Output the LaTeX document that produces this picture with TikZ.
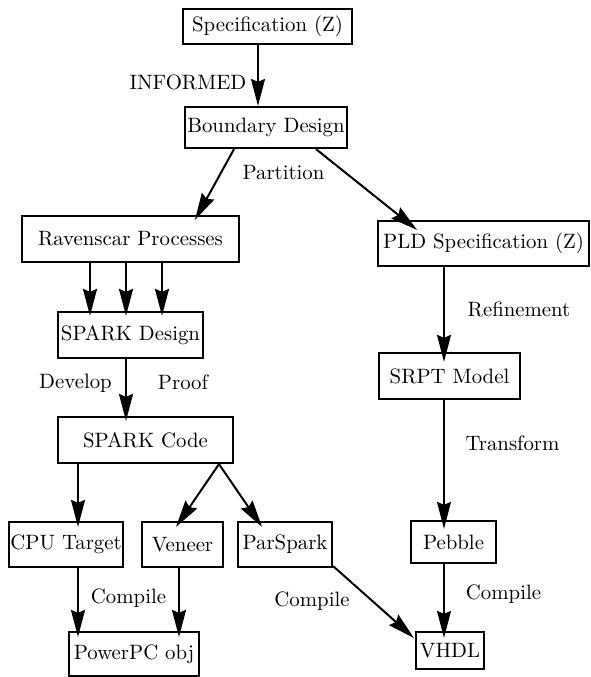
\documentclass[tikz,border=0pt]{standalone}
\usepackage{graphicx}
\usetikzlibrary{arrows.meta}
\newcommand{\bigtxt}[1]{\scalebox{2.08}{#1}}
\tikzset{
  boxnode/.style={draw=black, line width=2.2pt, inner sep=0pt, anchor=center},
  lbl/.style={inner sep=0pt, anchor=center},
  arr/.style={line width=2pt, -{Stealth[length=27pt,width=14pt,inset=3pt]}},
  thinarr/.style={line width=1.5pt, -{Stealth[length=27pt,width=14pt,inset=3pt]}}
}
\begin{document}
\begin{tikzpicture}[x=1pt,y=-1pt]
\useasboundingbox (0,0) rectangle (591,677);
% boxes
\node[boxnode, minimum width=169, minimum height=35] (spec) at (267.5,26.5) {\bigtxt{Specification (Z)}};
\node[boxnode, minimum width=162, minimum height=41] (bound) at (266,127.5) {\bigtxt{Boundary Design}};
\node[boxnode, minimum width=217, minimum height=46] (raven) at (130.5,239) {\bigtxt{Ravenscar Processes}};
\node[boxnode, minimum width=211, minimum height=45] (pld) at (483.5,243.5) {\bigtxt{PLD Specification (Z)}};
\node[boxnode, minimum width=145, minimum height=46] (sdes) at (130.5,335) {\bigtxt{SPARK Design}};
\node[boxnode, minimum width=175, minimum height=46] (scode) at (145.5,440) {\bigtxt{SPARK Code}};
\node[boxnode, minimum width=141, minimum height=46] (srpt) at (449.5,376) {\bigtxt{SRPT Model}};
\node[boxnode, minimum width=114, minimum height=45] (cpu) at (66,544.5) {\bigtxt{CPU Target}};
\node[boxnode, minimum width=81, minimum height=45] (veneer) at (182.5,544.5) {\bigtxt{Veneer}};
\node[boxnode, minimum width=94, minimum height=45] (parspark) at (285,544.5) {\bigtxt{ParSpark}};
\node[boxnode, minimum width=85, minimum height=42] (pebble) at (453.5,542) {\bigtxt{Pebble}};
\node[boxnode, minimum width=130, minimum height=44] (ppc) at (134,654) {\bigtxt{PowerPC obj}};
\node[boxnode, minimum width=68, minimum height=37] (vhdl) at (450,650.5) {\bigtxt{VHDL}};
% labels
\node[lbl] (l1) at (188,82) {\bigtxt{INFORMED}};
\node[lbl] (l2) at (283.5,173) {\bigtxt{Partition}};
\node[lbl] (l3) at (75.5,383) {\bigtxt{Develop}};
\node[lbl] (l4) at (183,382) {\bigtxt{Proof}};
\node[lbl] (l5) at (519,309) {\bigtxt{Refinement}};
\node[lbl] (l6) at (512.5,443) {\bigtxt{Transform}};
\node[lbl] (l7) at (128.5,598) {\bigtxt{Compile}};
\node[lbl] (l8) at (312,601) {\bigtxt{Compile}};
\node[lbl] (l9) at (503.5,594) {\bigtxt{Compile}};
% connectors
\draw[arr] ([xshift=-9.5pt]spec.south) -- ([xshift=-8pt]bound.north);
\draw[arr] ([xshift=-32pt]bound.south) -- ([xshift=64.5pt,yshift=-5pt]raven.north);
\draw[arr] ([xshift=50pt]bound.south) -- ([xshift=-66.5pt,yshift=-10pt]pld.north);
\draw[arr] ([xshift=-40.5pt]raven.south) -- ([xshift=-40.5pt,yshift=-5pt]sdes.north);
\draw[arr] ([xshift=-4.5pt]raven.south) -- ([xshift=-4.5pt,yshift=-5pt]sdes.north);
\draw[arr] ([xshift=31.5pt]raven.south) -- ([xshift=31.5pt,yshift=-5pt]sdes.north);
\draw[arr] ([xshift=-4.5pt]sdes.south) -- ([xshift=-19.5pt,yshift=-5pt]scode.north);
\draw[arr] ([xshift=-67.5pt]scode.south) -- ([xshift=12pt,yshift=-6pt]cpu.north);
\draw[arr] ([xshift=73.5pt]scode.south) -- ([xshift=-6.5pt,yshift=-6pt]veneer.north);
\draw[arr] ([xshift=73.5pt]scode.south) -- ([xshift=-23pt,yshift=-6pt]parspark.north);
\draw[arr] ([xshift=12pt]cpu.south) -- ([xshift=-56pt,yshift=-6pt]ppc.north);
\draw[arr] ([xshift=-3.5pt]veneer.south) -- ([xshift=45pt,yshift=-6pt]ppc.north);
\draw[arr] ([yshift=2pt]parspark.south east) -- ([xshift=-1pt,yshift=-7pt]vhdl.north west);
\draw[thinarr] ([xshift=-39.5pt]pld.south) -- ([xshift=-5.5pt,yshift=-10pt]srpt.north);
\draw[thinarr] ([xshift=-5.5pt]srpt.south) -- ([xshift=-9.5pt,yshift=-9pt]pebble.north);
\draw[thinarr] ([xshift=-9.5pt]pebble.south) -- ([xshift=-6pt,yshift=-7pt]vhdl.north);
\end{tikzpicture}
\end{document}
